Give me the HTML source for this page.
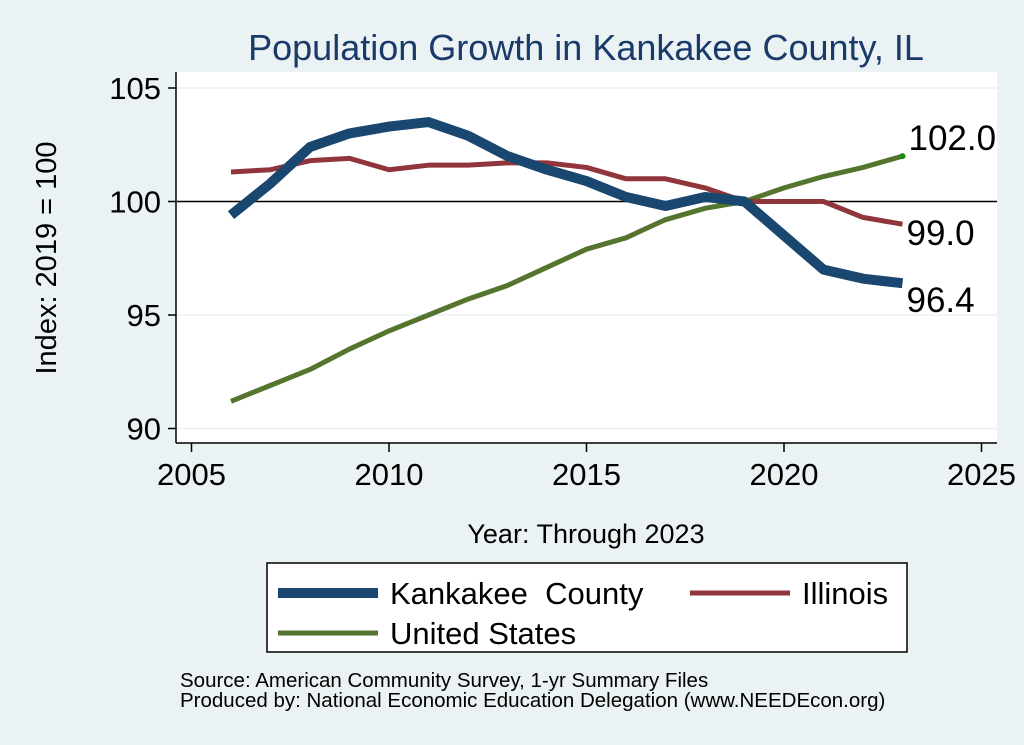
<!DOCTYPE html>
<html><head><meta charset="utf-8"><style>
body{margin:0;background:#eaf2f3;}
svg{display:block;font-family:"Liberation Sans",sans-serif;}
</style></head><body>
<svg id="c" width="1024" height="745">
<rect x="0" y="0" width="1024" height="745" fill="#eaf2f3"/>
<text x="586" y="60" font-size="36" fill="#1a3a6a" text-anchor="middle">Population Growth in Kankakee County, IL</text>
<rect x="176" y="72" width="821" height="371" fill="#fff"/>
<g id="grid"></g>
<line x1="176" y1="72" x2="176" y2="443" stroke="#000" stroke-width="1.5"/>
<line x1="176" y1="443" x2="997" y2="443" stroke="#000" stroke-width="1.5"/>
<g id="ticks"></g>
<g id="series"></g>
<text transform="translate(56,258) rotate(-90)" font-size="29" text-anchor="middle">Index: 2019 = 100</text>
<text x="586" y="543" font-size="27" text-anchor="middle">Year: Through 2023</text>
<g>
<rect x="267" y="563" width="640" height="89" fill="#fff" stroke="#000" stroke-width="1.5"/>
<line x1="278" y1="593" x2="378" y2="593" stroke="#1a476f" stroke-width="10"/>
<text x="390" y="604" font-size="31" style="white-space:pre">Kankakee  County</text>
<line x1="690" y1="593" x2="790" y2="593" stroke="#90353b" stroke-width="5"/>
<text x="802" y="604" font-size="31">Illinois</text>
<line x1="278" y1="633" x2="378" y2="633" stroke="#55752f" stroke-width="5"/>
<text x="390" y="644" font-size="31">United States</text>
</g>
<text x="180" y="687" font-size="20.5">Source: American Community Survey, 1-yr Summary Files</text>
<text x="180" y="707" font-size="20.5">Produced by: National Economic Education Delegation (www.NEEDEcon.org)</text>
</svg>
<script>
const years=[2006,2007,2008,2009,2010,2011,2012,2013,2014,2015,2016,2017,2018,2019,2020,2021,2022,2023];
const kankakee=[99.4,100.8,102.4,103.0,103.3,103.5,102.9,102.0,101.4,100.9,100.2,99.8,100.2,100.0,98.5,97.0,96.6,96.4];
const illinois=[101.3,101.4,101.8,101.9,101.4,101.6,101.6,101.7,101.7,101.5,101.0,101.0,100.6,100.0,100.0,100.0,99.3,99.0];
const usa=[91.2,91.9,92.6,93.5,94.3,95.0,95.7,96.3,97.1,97.9,98.4,99.2,99.7,100.0,100.6,101.1,101.5,102.0];
const xTicks=[2005,2010,2015,2020,2025];
const yTicks=[90,95,100,105];
const NS="http://www.w3.org/2000/svg";
const X=v=>191.5+(v-2005)*39.5;
const Y=v=>201.5-(v-100)*22.7;
function mk(tag,attrs,parent){const e=document.createElementNS(NS,tag);for(const k in attrs)e.setAttribute(k,attrs[k]);document.getElementById(parent).appendChild(e);return e;}
yTicks.forEach(t=>{
  if(t!==100){const g=mk('line',{x1:177,x2:997,y1:Y(t),y2:Y(t),stroke:'#eaf2f3','stroke-width':1.5},'grid');
  
  }
  const tk=mk('line',{x1:168,x2:176,y1:Y(t),y2:Y(t),stroke:'#000','stroke-width':1.5},'ticks');
  
  
  const l=mk('text',{x:161,y:Y(t)+11,'font-size':31,'text-anchor':'end'},'ticks');l.textContent=t;
  
  
});
const ref=mk('line',{x1:177,x2:997,y1:Y(100),y2:Y(100),stroke:'#000','stroke-width':1.5},'grid');


xTicks.forEach(t=>{
  const tk=mk('line',{x1:X(t),x2:X(t),y1:443,y2:452,stroke:'#000','stroke-width':1.5},'ticks');
  
  
  const l=mk('text',{x:X(t),y:485,'font-size':31,'text-anchor':'middle'},'ticks');l.textContent=t;
  
  
});
function line(vals,color,w,name){
  const p=mk('polyline',{points:vals.map((v,i)=>X(years[i])+','+Y(v)).join(' '),fill:'none',stroke:color,'stroke-width':w,'stroke-linejoin':'round'},'series');
  
  
}
line(usa,'#55752f',5,'us-line');
line(illinois,'#90353b',5,'illinois-line');
line(kankakee,'#1a476f',10,'kankakee-line');
const n=years.length-1;
const dot=mk('circle',{cx:X(years[n]),cy:Y(usa[n]),r:3,fill:'#1a8a1a'},'series');


[[usa,-6,'us-end-label'],[illinois,21,'illinois-end-label'],[kankakee,29,'kankakee-end-label']].forEach(([s,dy,nm],i)=>{
  const t=mk('text',{x:X(years[n])+(i===0?6:4),y:Y(s[n])+dy,'font-size':35},'series');
  t.textContent=s[n].toFixed(1);
  
  
});
</script>
</body></html>
